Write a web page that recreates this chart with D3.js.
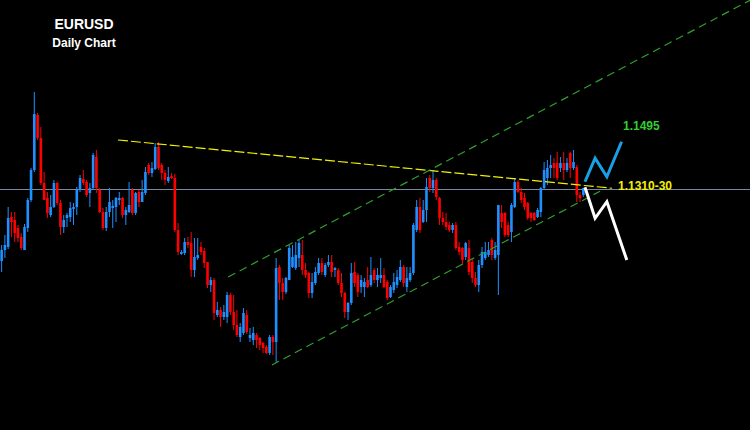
<!DOCTYPE html>
<html>
<head>
<meta charset="utf-8">
<script src="https://cdn.jsdelivr.net/npm/d3@7/dist/d3.min.js"></script>
<style>
  html, body { margin: 0; padding: 0; background: #000; }
  svg { display: block; }
</style>
</head>
<body>
<svg id="chart" width="750" height="430"></svg>
<script>
// ---- Data (EURUSD daily candles, oldest -> newest) ----
const open = [
1.1032,1.1076,1.1088,1.1208,1.1196,1.1164,1.1128,1.1076,1.1164,1.1276,
1.1396,1.1616,1.1524,1.1344,1.1284,1.1216,1.1248,1.1344,1.1264,1.1168,
1.1204,1.1208,1.1240,1.1248,1.1316,1.1360,1.1348,1.1304,1.1324,1.1448,
1.1316,1.1228,1.1164,1.1228,1.1244,1.1248,1.1276,1.1284,1.1216,1.1228,
1.1316,1.1224,1.1308,1.1268,1.1304,1.1416,1.1384,1.1400,1.1488,1.1416,
1.1384,1.1352,1.1372,1.1364,1.1156,1.1060,1.1064,1.1108,1.1104,1.0996,
1.1044,1.1088,1.1072,1.1028,1.0936,1.0956,1.0816,1.0836,1.0808,1.0808,
1.0896,1.0828,1.0776,1.0728,1.0744,1.0816,1.0724,1.0716,1.0736,1.0724,
1.0704,1.0688,1.0664,1.0728,1.0708,1.1008,1.0944,1.0908,1.0956,1.1008,
1.1004,1.1044,1.1056,1.0996,1.0984,1.0904,1.0944,1.0984,1.1024,1.0976,
1.1016,1.1028,1.0996,1.0996,1.0944,1.0904,1.0828,1.0864,1.0988,1.0976,
1.0928,1.0928,1.0956,1.0936,1.0996,1.0956,1.0964,1.0976,1.0948,1.0888,
1.0916,1.0936,1.0956,1.1008,1.0928,1.0956,1.0984,1.1156,1.1248,1.1188,
1.1236,1.1364,1.1324,1.1356,1.1284,1.1204,1.1188,1.1176,1.1156,1.1176,
1.1088,1.1084,1.1048,1.1084,1.1028,1.0964,1.0936,1.1016,1.1044,1.1056,
1.1116,1.1044,1.1056,1.1224,1.1224,1.1176,1.1148,1.1248,1.1348,1.1308,
1.1284,1.1264,1.1224,1.1224,1.1208,1.1228,1.1324,1.1364,1.1404,1.1424,
1.1424,1.1404,1.1424,1.1396,1.1464,1.1404,1.1408,1.1296,1.1296
];
const high = [
1.1096,1.1136,1.1248,1.1228,1.1228,1.1176,1.1144,1.1180,1.1284,1.1404,
1.1708,1.1624,1.1568,1.1388,1.1308,1.1296,1.1356,1.1348,1.1276,1.1216,
1.1224,1.1268,1.1264,1.1328,1.1376,1.1396,1.1356,1.1344,1.1464,1.1476,
1.1324,1.1244,1.1248,1.1324,1.1276,1.1288,1.1308,1.1288,1.1248,1.1348,
1.1324,1.1308,1.1316,1.1356,1.1408,1.1424,1.1428,1.1504,1.1508,1.1424,
1.1396,1.1408,1.1384,1.1380,1.1184,1.1076,1.1124,1.1128,1.1148,1.1124,
1.1124,1.1108,1.1084,1.1028,1.0968,1.0964,1.0868,1.0848,1.0856,1.0908,
1.0904,1.0896,1.0836,1.0784,1.0844,1.0836,1.0764,1.0768,1.0744,1.0728,
1.0708,1.0696,1.0736,1.0736,1.1044,1.1016,1.0964,1.0968,1.1096,1.1096,
1.1108,1.1116,1.1116,1.1024,1.0988,1.0984,1.1008,1.1044,1.1044,1.1024,
1.1056,1.1056,1.1008,1.1004,1.0984,1.0908,1.0868,1.1024,1.1028,1.0984,
1.0976,1.0964,1.1008,1.1048,1.1004,1.1004,1.1044,1.1004,1.0956,1.0936,
1.0984,1.0996,1.1036,1.1016,1.1008,1.1008,1.1184,1.1276,1.1284,1.1276,
1.1364,1.1376,1.1396,1.1364,1.1288,1.1228,1.1224,1.1188,1.1184,1.1188,
1.1108,1.1088,1.1108,1.1116,1.1044,1.0988,1.1036,1.1088,1.1108,1.1108,
1.1124,1.1108,1.1256,1.1256,1.1228,1.1188,1.1264,1.1364,1.1356,1.1324,
1.1304,1.1268,1.1228,1.1228,1.1244,1.1328,1.1428,1.1436,1.1456,1.1444,
1.1468,1.1448,1.1468,1.1444,1.1468,1.1476,1.1416,1.1308,1.1324
];
const low = [
1.0988,1.1044,1.1080,1.1128,1.1108,1.1108,1.1076,1.1076,1.1148,1.1268,
1.1388,1.1516,1.1336,1.1276,1.1204,1.1208,1.1244,1.1256,1.1136,1.1144,
1.1168,1.1188,1.1176,1.1216,1.1308,1.1336,1.1288,1.1248,1.1316,1.1304,
1.1224,1.1156,1.1152,1.1208,1.1164,1.1188,1.1256,1.1204,1.1176,1.1224,
1.1216,1.1216,1.1248,1.1268,1.1296,1.1376,1.1368,1.1396,1.1396,1.1356,
1.1336,1.1344,1.1360,1.1148,1.1056,1.1056,1.1056,1.1084,1.0968,1.0968,
1.1036,1.1056,1.1004,1.0924,1.0908,1.0796,1.0808,1.0768,1.0796,1.0784,
1.0816,1.0756,1.0728,1.0708,1.0736,1.0740,1.0708,1.0696,1.0684,1.0676,
1.0664,1.0660,1.0656,1.0656,1.0624,1.0876,1.0876,1.0900,1.0956,1.1004,
1.0996,1.1008,1.0976,1.0964,1.0884,1.0884,1.0936,1.0976,1.0976,1.0968,
1.1008,1.0968,1.0968,1.0936,1.0888,1.0804,1.0796,1.0856,1.0928,1.0888,
1.0904,1.0888,1.0924,1.0928,1.0944,1.0928,1.0944,1.0924,1.0876,1.0884,
1.0904,1.0924,1.0948,1.0928,1.0908,1.0948,1.0976,1.1148,1.1144,1.1184,
1.1188,1.1308,1.1304,1.1276,1.1176,1.1176,1.1156,1.1148,1.1144,1.1076,
1.1056,1.1016,1.1036,1.0976,1.0944,1.0928,1.0908,1.1004,1.1036,1.1048,
1.1036,1.1036,1.0896,1.1164,1.1128,1.1128,1.1108,1.1244,1.1304,1.1264,
1.1236,1.1196,1.1188,1.1192,1.1204,1.1208,1.1316,1.1336,1.1364,1.1364,
1.1356,1.1388,1.1356,1.1388,1.1364,1.1396,1.1268,1.1268,1.1288
];
const close = [
1.1076,1.1096,1.1204,1.1188,1.1144,1.1124,1.1084,1.1168,1.1276,1.1396,
1.1620,1.1524,1.1344,1.1276,1.1224,1.1248,1.1344,1.1264,1.1168,1.1196,
1.1216,1.1244,1.1248,1.1316,1.1364,1.1344,1.1296,1.1324,1.1456,1.1324,
1.1228,1.1164,1.1228,1.1268,1.1252,1.1284,1.1284,1.1216,1.1236,1.1256,
1.1224,1.1304,1.1268,1.1308,1.1388,1.1384,1.1404,1.1488,1.1404,1.1384,
1.1356,1.1368,1.1364,1.1156,1.1068,1.1068,1.1108,1.1096,1.0996,1.1048,
1.1056,1.1068,1.1024,1.0936,1.0956,1.0824,1.0836,1.0808,1.0828,1.0896,
1.0828,1.0776,1.0736,1.0768,1.0824,1.0748,1.0736,1.0744,1.0716,1.0696,
1.0684,1.0664,1.0728,1.0708,1.1004,1.0944,1.0908,1.0964,1.1084,1.1048,
1.1056,1.1104,1.0996,1.0976,1.0904,1.0948,1.0988,1.1024,1.0988,1.1016,
1.1028,1.0988,1.1004,1.0944,1.0904,1.0828,1.0864,1.0984,1.0944,1.0908,
1.0956,1.0948,1.0928,1.0976,1.0956,1.0976,1.0976,1.0928,1.0884,1.0928,
1.0948,1.0968,1.1008,1.0944,1.0964,1.0984,1.1176,1.1248,1.1156,1.1236,
1.1328,1.1324,1.1356,1.1288,1.1204,1.1188,1.1168,1.1156,1.1176,1.1084,
1.1068,1.1036,1.1104,1.0988,1.0964,1.0936,1.1016,1.1068,1.1068,1.1076,
1.1056,1.1076,1.1256,1.1188,1.1136,1.1136,1.1256,1.1348,1.1308,1.1276,
1.1248,1.1204,1.1204,1.1196,1.1236,1.1324,1.1396,1.1404,1.1416,1.1404,
1.1364,1.1424,1.1396,1.1424,1.1404,1.1428,1.1296,1.1284,1.1324
];

// Annotations: [candle index, price]
const resistanceLine = [[35.6, 1.1516], [186.8, 1.1323]];   // yellow dashed
const channelTop     = [[69.3, 1.0968], [229.0, 1.2075]];   // green dashed
const channelBottom  = [[82.7, 1.0616], [183.1, 1.1311]];   // green dashed
const pivotLevel     = 1.1320;                               // horizontal line
const bullPath = [[178.5, 1.1349], [181.6, 1.1443], [185.2, 1.1369], [189.7, 1.1509]];
const bearPath = [[178.5, 1.1327], [181.6, 1.1203], [185.2, 1.1269], [191.3, 1.1036]];
const titleText = "EURUSD";
const subtitleText = "Daily Chart";
const targetLabel = "1.1495";
const pivotLabel = "1.1310-30";

// ---- Drawing ----
const W = 750, H = 430;
const svg = d3.select("#chart");
svg.append("rect").attr("width", W).attr("height", H).attr("fill", "#000");

const N = open.length;
const x = d3.scaleLinear().domain([0, N - 1]).range([1.63, 1.63 + 3.268 * (N - 1)]);
const y = d3.scaleLinear().domain([1.0356, 1.2076]).range([H, 0]);

const UP = "#1e90ff", DOWN = "#ff0000";

// pivot horizontal line
svg.append("line")
  .attr("x1", 0).attr("x2", W)
  .attr("y1", Math.round(y(pivotLevel)) + 0.5).attr("y2", Math.round(y(pivotLevel)) + 0.5)
  .attr("stroke", "#7589a6").attr("stroke-width", 1);

const candles = d3.range(N).map(i => ({ i, o: open[i], h: high[i], l: low[i], c: close[i] }));
const g = svg.append("g");
const cg = g.selectAll("g.c").data(candles).join("g").attr("class", "c");
cg.append("line")
  .attr("x1", d => x(d.i)).attr("x2", d => x(d.i))
  .attr("y1", d => y(d.h)).attr("y2", d => y(d.l))
  .attr("stroke", d => d.c >= d.o ? UP : DOWN).attr("stroke-width", 1);
cg.append("rect")
  .attr("x", d => x(d.i) - 1.3)
  .attr("width", 2.6)
  .attr("y", d => y(Math.max(d.o, d.c)))
  .attr("height", d => Math.max(1, Math.abs(y(d.o) - y(d.c))))
  .attr("fill", d => d.c >= d.o ? UP : DOWN);

const line = d3.line().x(d => x(d[0])).y(d => y(d[1]));

svg.append("path").attr("d", line(resistanceLine))
  .attr("fill", "none").attr("stroke", "#f2f200").attr("stroke-width", 1.2)
  .attr("stroke-dasharray", "10,3");
[channelTop, channelBottom].forEach(pts => {
  svg.append("path").attr("d", line(pts))
    .attr("fill", "none").attr("stroke", "#2fa02f").attr("stroke-width", 1.2)
    .attr("stroke-dasharray", "8,5");
});

svg.append("path").attr("d", line(bullPath))
  .attr("fill", "none").attr("stroke", "#1aa0e6").attr("stroke-width", 3)
  .attr("stroke-linejoin", "miter");
svg.append("path").attr("d", line(bearPath))
  .attr("fill", "none").attr("stroke", "#ffffff").attr("stroke-width", 3)
  .attr("stroke-linejoin", "miter");

const font = "'Liberation Sans', Arial, sans-serif";
svg.append("text").text(titleText)
  .attr("x", 84).attr("y", 29).attr("text-anchor", "middle")
  .attr("font-family", font).attr("font-weight", "bold").attr("font-size", 14)
  .attr("fill", "#fff");
svg.append("text").text(subtitleText)
  .attr("x", 84).attr("y", 47).attr("text-anchor", "middle")
  .attr("font-family", font).attr("font-weight", "bold").attr("font-size", 12)
  .attr("fill", "#fff");
svg.append("text").text(targetLabel)
  .attr("x", 623).attr("y", 130)
  .attr("font-family", font).attr("font-weight", "bold").attr("font-size", 12)
  .attr("fill", "#33cc33");
svg.append("text").text(pivotLabel)
  .attr("x", 618).attr("y", 190)
  .attr("font-family", font).attr("font-weight", "bold").attr("font-size", 12)
  .attr("fill", "#f5f000");
</script>
</body>
</html>
